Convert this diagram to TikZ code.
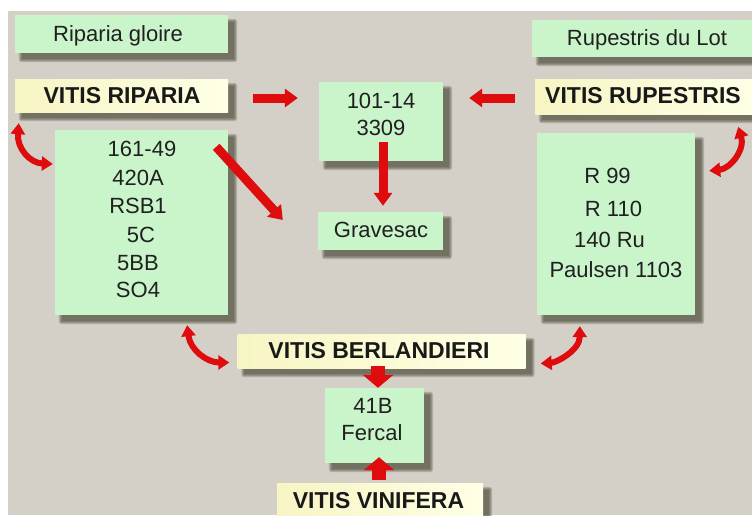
\documentclass[tikz,border=0pt]{standalone}
\usepackage{fontspec}
\setmainfont{Liberation Sans}
\usetikzlibrary{arrows.meta,calc}
\definecolor{bggray}{RGB}{212,208,200}
\definecolor{boxgreen}{RGB}{202,245,202}
\definecolor{yelA}{RGB}{247,245,196}
\definecolor{yelB}{RGB}{255,255,230}
\definecolor{arrowred}{RGB}{222,12,12}
\definecolor{shadowc}{RGB}{60,60,40}
\definecolor{txt}{RGB}{32,32,32}
\pgfdeclarelayer{bg}
\pgfsetlayers{bg,main}
\tikzset{
  gbox/.style={rectangle, fill=boxgreen, draw=none, inner sep=0pt},
  ybox/.style={rectangle, left color=yelA, right color=yelB, draw=none, inner sep=0pt},
  regtxt/.style={text=txt, font=\fontsize{22}{26}\selectfont, inner sep=0pt, anchor=base},
  boldtxt/.style={text=black!90, font=\fontsize{23}{27}\selectfont\bfseries, inner sep=0pt, anchor=base},
  bigarrow/.style={draw=arrowred, line width=9pt, -{Triangle[length=13pt,width=18pt]}},
  stubarrow/.style={draw=arrowred, line width=14pt, -{Triangle[length=13pt,width=30pt]}},
  curvearrow/.style={draw=arrowred, line width=6pt, {Triangle[length=11pt,width=14pt]}-{Triangle[length=11pt,width=14pt]}},
}
\begin{document}
\begin{tikzpicture}[x=1pt,y=-1pt]
\useasboundingbox (0,0) rectangle (752,515);
% boxes
\node[gbox, minimum width=213pt, minimum height=38pt] (rg) at (121.5,34) {};
\node[ybox, minimum width=213pt, minimum height=33pt] (vr) at (121.5,95.5) {};
\node[gbox, minimum width=124pt, minimum height=79pt] (h1) at (381,121.5) {};
\node[gbox, minimum width=125pt, minimum height=38pt] (gv) at (380.5,231) {};
\node[gbox, minimum width=223pt, minimum height=37pt] (rl) at (643.5,38.5) {};
\node[ybox, minimum width=220pt, minimum height=35pt] (vrup) at (645,96.5) {};
\node[gbox, minimum width=173pt, minimum height=185pt] (lb) at (141.5,222.5) {};
\node[gbox, minimum width=158pt, minimum height=182pt] (rb) at (616,224) {};
\node[ybox, minimum width=288pt, minimum height=34pt] (vb) at (381.5,351) {};
\node[gbox, minimum width=99pt, minimum height=75pt] (f) at (374.5,425.5) {};
\node[ybox, minimum width=206pt, minimum height=36pt] (vv) at (380,501) {};
% background and shadows
\begin{pgfonlayer}{bg}
  \fill[white] (0,0) rectangle (752,515);
  \fill[bggray] (8,11) rectangle (752,515);
  \foreach \n in {rg,vr,h1,gv,rl,vrup,lb,rb,vb,f,vv}{
    \foreach \r in {0,1,2,3}{
      \fill[shadowc, opacity=0.22, rounded corners=\r pt]
        ($(\n.north west)+(7-\r,7-\r)$) rectangle ($(\n.south east)+(6+\r,6+\r)$);
    }
  }
\end{pgfonlayer}
% texts
\node[regtxt] (trg) at (118,41) {Riparia gloire};
\node[boldtxt] (tvr) at (122,103.5) {VITIS RIPARIA};
\node[regtxt] (th1a) at (381,108) {101-14};
\node[regtxt] (th1b) at (381,135) {3309};
\node[regtxt] (tgv) at (381,237.5) {Gravesac};
\node[regtxt] (trl) at (647,45) {Rupestris du Lot};
\node[boldtxt] (tvrup) at (643,103.5) {VITIS RUPESTRIS};
\node[regtxt] (tl1) at (142,156) {161-49};
\node[regtxt] (tl2) at (138,185) {420A};
\node[regtxt] (tl3) at (138,213.5) {RSB1};
\node[regtxt] (tl4) at (141,242) {5C};
\node[regtxt] (tl5) at (138,270) {5BB};
\node[regtxt] (tl6) at (138,297.5) {SO4};
\node[regtxt] (tr1) at (607.5,183) {R 99};
\node[regtxt] (tr2) at (613.5,216) {R 110};
\node[regtxt] (tr3) at (609.5,247) {140 Ru};
\node[regtxt] (tr4) at (616,277) {Paulsen 1103};
\node[boldtxt] (tvb) at (379,358) {VITIS BERLANDIERI};
\node[regtxt] (tf1) at (373,413) {41B};
\node[regtxt] (tf2) at (372,440) {Fercal};
\node[boldtxt] (tvv) at (378.5,508) {VITIS VINIFERA};
% straight arrows
\draw[bigarrow] ($(vr.east)+(25,2.5)$) -- ($(h1.west)+(-21,-23.5)$);
\draw[bigarrow] ($(vrup.west)+(-20,1.5)$) -- ($(h1.east)+(26,-23.5)$);
\draw[bigarrow] ($(h1.south)+(2,-19)$) -- ($(gv.north)+(2.5,-6)$);
\draw[bigarrow] ($(lb.north east)+(-12,17)$) -- ($(gv.west)+(-35,-11)$);
% curved arrows
\draw[curvearrow] ($(vr.south west)+(4,11)$) .. controls +(-2,25) and +(-23,-1) .. ($(lb.west)+(-2,-58.5)$);
\draw[curvearrow] ($(rb.north east)+(43,-6)$) .. controls +(7,23) and +(21,-2) .. ($(rb.north east)+(14,38)$);
\draw[curvearrow] ($(lb.south east)+(-41,10)$) .. controls +(3,25) and +(-22,0) .. ($(vb.west)+(-8,11.5)$);
\draw[curvearrow] ($(rb.south west)+(43,11)$) .. controls +(0,24) and +(16,-1) .. ($(vb.east)+(15,12.5)$);
% stub arrows at 41B
\draw[stubarrow] ($(f.north)+(3.5,-22)$) -- ($(f.north)+(3.5,0)$);
\draw[stubarrow] ($(f.south)+(4.5,17)$) -- ($(f.south)+(4.5,-6)$);
\end{tikzpicture}
\end{document}
